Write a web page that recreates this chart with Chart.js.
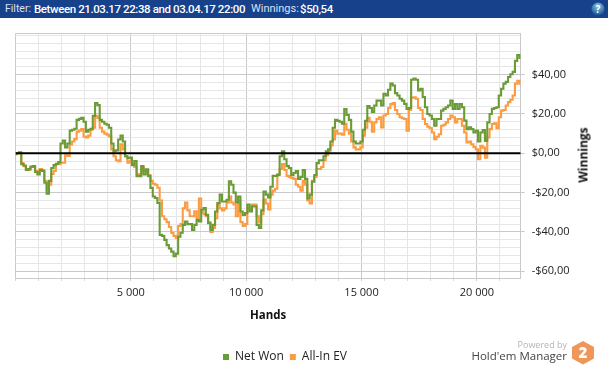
<!DOCTYPE html>
<html><head><meta charset="utf-8">
<style>
html,body{margin:0;padding:0;background:#fff;}
#wrap{position:relative;width:608px;height:369px;overflow:hidden;font-family:"Open Sans",sans-serif;}
canvas{position:absolute;left:0;top:0;}
#bar{position:absolute;left:0;top:0;width:608px;height:18px;background:#17418b;color:#d8e2f2;font-family:Roboto,sans-serif;font-size:11.5px;line-height:18px;white-space:nowrap;}
#bar span{position:absolute;top:0;}
#bar b{color:#fff;font-weight:500;letter-spacing:-0.4px;}
#wintitle{position:absolute;left:583px;top:155px;transform:translate(-50%,-50%) rotate(-90deg);font-size:12px;font-weight:700;color:#111;white-space:nowrap;}
#pow{position:absolute;right:41px;top:338px;font-size:9px;color:#b5b5b5;}
#hem{position:absolute;right:41px;top:348px;font-size:11.5px;color:#444;}
svg{position:absolute;}
</style></head><body>
<div id="wrap">
<canvas id="c" width="608" height="369"></canvas>
<div id="bar"><span style="left:5px;font-size:10.5px">Filter:</span><span style="left:34px"><b>Between 21.03.17 22:38 and 03.04.17 22:00</b></span><span style="left:251px;font-size:11px">Winnings:</span><span style="left:300px"><b>$50,54</b></span></div>
<svg style="left:591px;top:2px" width="14" height="14"><defs><radialGradient id="g" cx="50%" cy="30%" r="70%"><stop offset="0" stop-color="#8fc6e8"/><stop offset="1" stop-color="#12538f"/></radialGradient></defs><circle cx="7" cy="7" r="6.5" fill="url(#g)"/><text x="7" y="11" font-size="10" font-weight="700" text-anchor="middle" fill="#fff" font-family="Open Sans">?</text></svg>
<div id="wintitle">Winnings</div>
<div id="pow">Powered by</div>
<div id="hem">Hold'em Manager</div>
<svg style="left:571px;top:340px" width="24" height="25"><polygon points="12,1 23,7 23,18.5 12,24.5 1,18.5 1,7" fill="#f09658"/><text x="12" y="18" font-size="15" font-weight="800" text-anchor="middle" fill="#fff" font-family="Open Sans">2</text></svg>
</div>
<script src="https://cdn.jsdelivr.net/npm/chart.js@4"></script>
<script>
const hands=[0,100,200,300,400,500,600,700,800,900,1000,1100,1200,1300,1400,1500,1600,1700,1800,1900,2000,2100,2200,2300,2400,2500,2600,2700,2800,2900,3000,3100,3200,3300,3400,3500,3600,3700,3800,3900,4000,4100,4200,4300,4400,4500,4600,4700,4800,4900,5000,5100,5200,5300,5400,5500,5600,5700,5800,5900,6000,6100,6200,6300,6400,6500,6600,6700,6800,6900,7000,7100,7200,7300,7400,7500,7600,7700,7800,7900,8000,8100,8200,8300,8400,8500,8600,8700,8800,8900,9000,9100,9200,9300,9400,9500,9600,9700,9800,9900,10000,10100,10200,10300,10400,10500,10600,10700,10800,10900,11000,11100,11200,11300,11400,11500,11600,11700,11800,11900,12000,12100,12200,12300,12400,12500,12600,12700,12800,12900,13000,13100,13200,13300,13400,13500,13600,13700,13800,13900,14000,14100,14200,14300,14400,14500,14600,14700,14800,14900,15000,15100,15200,15300,15400,15500,15600,15700,15800,15900,16000,16100,16200,16300,16400,16500,16600,16700,16800,16900,17000,17100,17200,17300,17400,17500,17600,17700,17800,17900,18000,18100,18200,18300,18400,18500,18600,18700,18800,18900,19000,19100,19200,19300,19400,19500,19600,19700,19800,19900,20000,20100,20200,20300,20400,20500,20600,20700,20800,20900,21000,21100,21200,21300,21400,21500,21600,21700,21800,21900];
const netWon=[-0.5,0,0.5,-5.5,-6.2,-8.5,-8,-6.8,-6.5,-9.5,-10.8,-8.5,-9,-15,-20.5,-14,-7.5,-6,-5.4,-4.5,5,6.5,3,5,11.5,12,12.5,17,17.5,18,16,11,12,12.5,19,25.5,24.5,17,16,15,14.5,13,5,1,1.5,7,9,6,-1.5,-2.5,-2.2,-6,-4,-11.6,-11.6,-6.5,-10.8,-8.2,-11.6,-17.6,-22,-22.7,-25.3,-41.5,-42,-44,-46.7,-48.4,-50,-52.3,-51,-42.4,-40.4,-36.4,-34.7,-36,-36,-39,-36.4,-34,-34.7,-28.7,-27.9,-31.3,-35.6,-39,-36.4,-29.6,-25.3,-21,-24.5,-24.5,-23.6,-14.2,-16,-20,-25,-22,-29.6,-31.3,-30.4,-26,-29.6,-27,-27,-36.4,-38,-29,-19.5,-21,-22.5,-17,-11.5,-11.5,-11,-1.5,1,-3,-6.5,-7.5,-11,-10,-9,-13,-12,-8.5,-13,-23,-21,-14.5,-11,-5,-3.5,-3.5,-1.5,1,2,6,13,17,16.5,16,15,22.5,19.5,17,11,6,5,5,6,12,16.5,24,23,21,24.3,26.8,26.8,24.3,30.3,29.4,32.3,35.4,34.5,30.6,29.4,27.7,26.8,25.1,22.6,23,37.4,38,37.4,32,32.8,28.6,23.4,20,19.2,17.4,14,17.4,17.4,21.7,22.6,23.4,24.3,26.8,22.6,25,22.6,25,23.4,16.6,12.3,13.2,12.3,10.6,11.5,6,10.6,11.8,6.3,15.7,20,22.6,23,23.4,29.4,32.8,35.4,36.3,38.8,40.2,41.4,47,50,48.5];
const allInEV=[0,0,0.3,-5,-6.5,-8,-8.5,-7,-6.8,-9,-10,-8,-8.5,-14,-18.5,-16,-10.5,-9,-5.6,-5.5,-4.8,-4.8,-1,-1.4,4.5,6,7.2,11,11.5,12.3,8.5,8,9,12,13,19,18,13,11,10,9.5,8.5,2,-1.5,-3.5,-4,4.6,2,-1.5,-4.8,-4,-5.5,-7,-11,-10.5,-7,-9,-8.5,-11,-14,-15.5,-16,-17.5,-24,-32,-33.5,-35,-37.5,-40.5,-42,-43,-37,-36,-28,-25,-29,-32,-32,-29.5,-33,-23,-30,-31,-32,-35,-40,-38,-33,-26,-28,-29,-28,-25,-22,-25,-26,-32,-24,-35,-37,-36,-28,-28,-26,-26,-32,-35,-31,-23.5,-25.5,-28.5,-21,-19,-18,-10.5,-8,-5.5,-8.5,-11.5,-12,-12.5,-13,-16,-17,-19,-14,-16,-24,-25.5,-14,-12,-8,-8,-7,-3.5,-1,1,4,7,11.5,10,10,9.5,15,12,10,6,3,2,2,3,9,13,18,16,11,15.7,17.4,18.3,13.2,19.2,20,23,25,25.5,22,20,18.3,17.8,17.4,11.5,22,28.2,28.5,27.7,23,22,17.4,14.9,13.5,12.8,10.6,7.2,8.4,9.7,14,14.5,15.7,17.4,19.2,18.3,15.7,17.4,17.4,14,10.6,5.5,6,4.6,3.2,2,-3,3.8,2.9,-2.2,8,12.3,14.9,15.2,12.8,18.3,21.7,22,24.3,26,27.2,29.4,35.4,36.8,35.4];
const zeroHands=[0,21900];
const zeroLine=[0,0];
const xTickValues=[0,1000,2000,3000,4000,5000,6000,7000,8000,9000,10000,11000,12000,13000,14000,15000,16000,17000,18000,19000,20000,21000,21900];
const xLabels={5000:'5 000',10000:'10 000',15000:'15 000',20000:'20 000'};
const xMajor=[0,5000,10000,15000,20000,21900];
const yTickValues=[-63.4,-60,-56,-52,-48,-44,-40,-36,-32,-28,-24,-20,-16,-12,-8,-4,0,4,8,12,16,20,24,28,32,36,40,44,48,52,56,60,60.9];
const yLabels={'-60':'-$60,00','-40':'-$40,00','-20':'-$20,00','0':'$0,00','20':'$20,00','40':'$40,00'};
const yMajor=[-63.4,-60,-40,-20,20,40,60.9];

const MAJ='#c9c9c9',MIN='#e6e6e6';
Chart.defaults.font.family='"Open Sans",sans-serif';
Chart.defaults.font.size=11;
Chart.defaults.color='#222';
const pts=(xs,ys)=>xs.map((x,i)=>({x,y:ys[i]}));
const shiftLegend={id:'shiftLegend',afterLayout(c){const l=c.legend;l.left-=10.6;l.right-=10.6;l.top+=6;l.bottom+=6;}};
new Chart(document.getElementById('c'),{
 type:'line',
 plugins:[shiftLegend],
 data:{datasets:[
  {label:'zero',data:pts(zeroHands,zeroLine),borderColor:'#000',borderWidth:2,pointRadius:0,order:-1},
  {label:'Net Won',data:pts(hands,netWon),borderColor:'#6b9b37',backgroundColor:'#6b9b37',borderWidth:2.1,pointRadius:0,stepped:'middle',order:0},
  {label:'All-In EV',data:pts(hands,allInEV),borderColor:'#fb9c43',backgroundColor:'#fb9c43',borderWidth:2.1,pointRadius:0,stepped:'middle',order:1}
 ]},
 options:{
  responsive:false,animation:false,
  layout:{autoPadding:false,padding:{left:15.5,right:32.3,top:33.5,bottom:2}},
  plugins:{
   tooltip:{enabled:false},
   legend:{position:'bottom',align:'center',
    labels:{boxWidth:6,boxHeight:6,padding:6,color:'#222',font:{size:12},filter:i=>i.text!=='zero',
     generateLabels:c=>Chart.defaults.plugins.legend.labels.generateLabels(c).map(l=>({...l,lineWidth:0}))}}
  },
  scales:{
   x:{type:'linear',position:'bottom',min:0,max:21900,
    afterBuildTicks:s=>{s.ticks=xTickValues.map(v=>({value:v}));},
    afterFit:s=>{s.height=61;},
    ticks:{autoSkip:false,maxRotation:0,padding:5,color:'#222',callback:v=>xLabels[v]||''},
    grid:{tickLength:3,drawTicks:true,color:c=>xMajor.includes(c.tick.value)?MAJ:MIN,tickColor:c=>c.tick.value===21900?'rgba(0,0,0,0)':(xLabels[c.tick.value]?MAJ:'#d8d8d8')},
    border:{display:true,color:MAJ},
    title:{display:true,text:'Hands',color:'#111',font:{size:11.5,weight:'700'},padding:{top:0,bottom:16}}},
   y:{type:'linear',position:'right',min:-63.4,max:60.9,
    afterBuildTicks:s=>{s.ticks=yTickValues.map(v=>({value:v}));},
    afterFit:s=>{s.width=55;},
    ticks:{autoSkip:false,padding:7,color:'#222',callback:v=>yLabels[v]||''},
    grid:{tickLength:4,color:c=>yMajor.includes(c.tick.value)?MAJ:MIN,tickColor:c=>yLabels[c.tick.value]?MAJ:'rgba(0,0,0,0)'},
    border:{display:true,color:MAJ}}
  }
 }
});
</script>
</body></html>
